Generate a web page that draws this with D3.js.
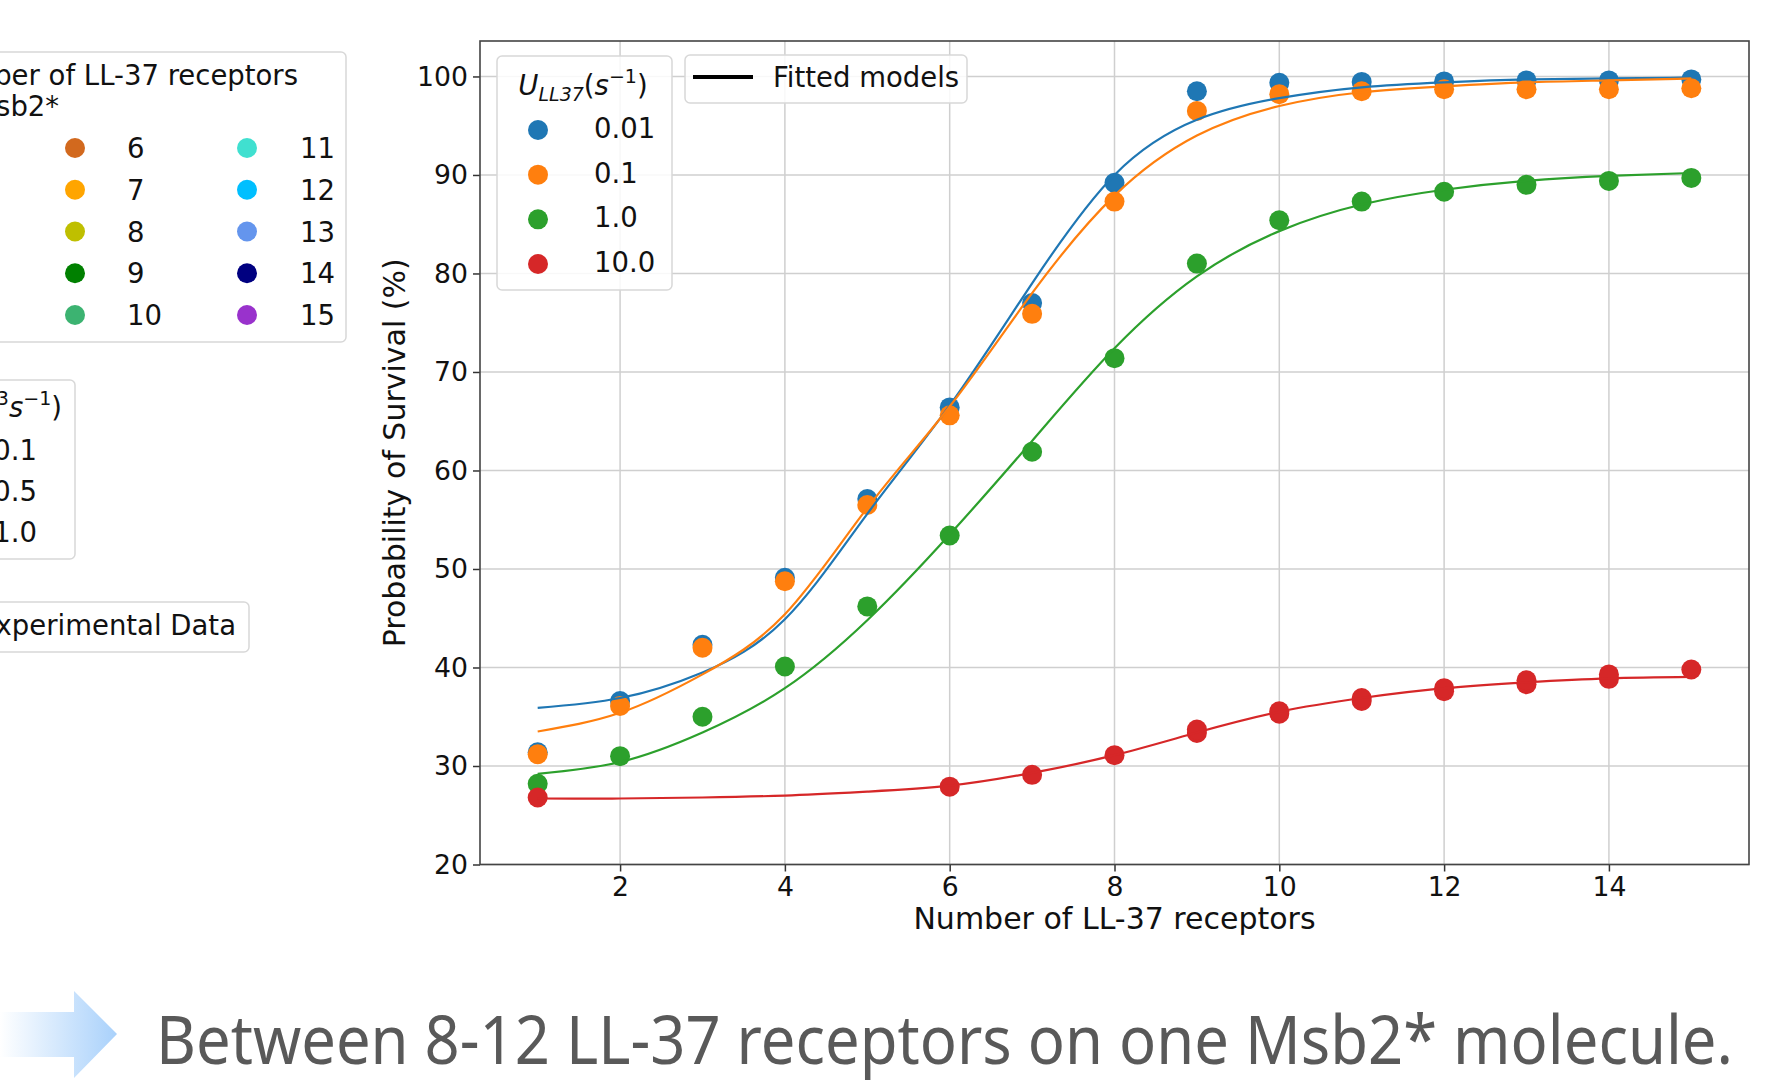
<!DOCTYPE html>
<html>
<head>
<meta charset="utf-8">
<script src="https://cdn.jsdelivr.net/npm/d3@7"></script>
<style>
  html, body { margin: 0; padding: 0; background: #fff; overflow: hidden; }
  svg { display: block; font-family: "DejaVu Sans", sans-serif; }
</style>
</head>
<body>
<svg id="chart" width="1775" height="1089"></svg>
<script>
// ---- data -------------------------------------------------------------
const receptors = [1, 2, 3, 4, 5, 6, 7, 8, 9, 10, 11, 12, 13, 14, 15];
const rateLabels = ["0.01", "0.1", "1.0", "10.0"];
const rateColors = ["#1f77b4", "#ff7f0e", "#2ca02c", "#d62728"];

// measured survival (%) per receptor count
const survivalRate001 = [31.4, 36.6, 42.3, 49.1, 57.1, 66.4, 77.0, 89.2, 98.5, 99.35, 99.45, 99.5, 99.6, 99.6, 99.7];
const survivalRate01  = [31.2, 36.1, 42.0, 48.75, 56.5, 65.6, 75.9, 87.3, 96.5, 98.2, 98.5, 98.7, 98.7, 98.7, 98.8];
const survivalRate1   = [28.2, 31.0, 35.0, 40.1, 46.2, 53.4, 61.9, 71.4, 81.0, 85.4, 87.3, 88.3, 89.0, 89.4, 89.7];
const receptorsRate10 = [1, 6, 7, 8, 9, 10, 11, 12, 13, 14, 15];
const survivalRate10  = [26.8, 27.9, 29.1, 31.1, 33.35, 35.3, 36.6, 37.6, 38.3, 38.85, 39.8];
const receptorsRate10Repeat = [9, 10, 11, 12, 13, 14];
const survivalRate10Repeat  = [33.7, 35.55, 36.9, 37.9, 38.7, 39.3];

// fitted model curves, evaluated at each receptor count
const fitRate001 = [35.9, 36.9, 39.5, 44.9, 55.6, 66.6, 79.0, 90.0, 95.6, 97.8, 98.9, 99.4, 99.7, 99.8, 99.9];
const fitRate01  = [33.5, 35.4, 39.3, 45.4, 56.2, 66.5, 78.0, 87.9, 94.0, 97.0, 98.4, 99.0, 99.4, 99.6, 99.8];
const fitRate1   = [29.2, 30.4, 33.4, 37.9, 44.8, 53.5, 63.0, 72.4, 79.7, 84.3, 87.0, 88.5, 89.4, 89.9, 90.2];
const fitRate10  = [26.7, 26.7, 26.8, 27.0, 27.4, 28.0, 29.3, 31.1, 33.4, 35.5, 36.9, 37.9, 38.5, 38.9, 39.05];

const xTicks = [2, 4, 6, 8, 10, 12, 14];
const yTicks = [20, 30, 40, 50, 60, 70, 80, 90, 100];

// side legends
const receptorCountLabels = ["6", "7", "8", "9", "10", "11", "12", "13", "14", "15"];
const receptorCountColors = ["#d2691e", "#ffa500", "#bfbf00", "#008000", "#3cb371",
                             "#40e0d0", "#00bfff", "#6495ed", "#000080", "#9932cc"];
const concentrationLabels = ["0.1", "0.5", "1.0"];

const conclusion = "Between 8-12 LL-37 receptors on one Msb2* molecule.";

// ---- chart ------------------------------------------------------------
const svg = d3.select("#chart");
svg.append("rect").attr("width", 1775).attr("height", 1089).attr("fill", "#fff");

const plot = { left: 480, right: 1749, top: 41, bottom: 864.5 };
const x = d3.scaleLinear().domain([0.3, 15.7]).range([plot.left, plot.right]);
const y = d3.scaleLinear().domain([20, 103.6]).range([plot.bottom, plot.top]);

const tickFont = 26.7;

// grid
const grid = svg.append("g").attr("stroke", "#cfcfcf").attr("stroke-width", 1.5);
grid.selectAll("line.gx").data(xTicks).join("line")
  .attr("x1", d => x(d)).attr("x2", d => x(d))
  .attr("y1", plot.top).attr("y2", plot.bottom);
grid.selectAll("line.gy").data(yTicks).join("line")
  .attr("x1", plot.left).attr("x2", plot.right)
  .attr("y1", d => y(d)).attr("y2", d => y(d));

// axes
const xAxis = svg.append("g")
  .attr("transform", `translate(0,${plot.bottom})`)
  .call(d3.axisBottom(x).tickValues(xTicks).tickSize(7).tickPadding(6).tickFormat(d3.format("d")));
const yAxis = svg.append("g")
  .attr("transform", `translate(${plot.left},0)`)
  .call(d3.axisLeft(y).tickValues(yTicks).tickSize(7).tickPadding(5).tickFormat(d3.format("d")));
[xAxis, yAxis].forEach(a => {
  a.select(".domain").remove();
  a.selectAll(".tick line").attr("stroke", "#333").attr("stroke-width", 1.5);
  a.selectAll(".tick text").attr("font-size", tickFont)
    .attr("font-family", "DejaVu Sans, sans-serif").attr("fill", "#111");
});

// spines
svg.append("rect")
  .attr("x", plot.left).attr("y", plot.top)
  .attr("width", plot.right - plot.left).attr("height", plot.bottom - plot.top)
  .attr("fill", "none").attr("stroke", "#444").attr("stroke-width", 1.6);

// axis titles
svg.append("text")
  .attr("x", (plot.left + plot.right) / 2).attr("y", 929)
  .attr("text-anchor", "middle").attr("font-size", 30).attr("fill", "#111")
  .text("Number of LL-37 receptors");
svg.append("text")
  .attr("transform", `translate(405,${(plot.top + plot.bottom) / 2}) rotate(-90)`)
  .attr("text-anchor", "middle").attr("font-size", 30).attr("fill", "#111")
  .text("Probability of Survival (%)");

// experimental points (drawn beneath the fitted curves)
const pointR = 10;
const pointSets = [
  { xs: receptors, ys: survivalRate001, c: rateColors[0] },
  { xs: receptors, ys: survivalRate01, c: rateColors[1] },
  { xs: receptors, ys: survivalRate1, c: rateColors[2] },
  { xs: receptorsRate10, ys: survivalRate10, c: rateColors[3] },
  { xs: receptorsRate10Repeat, ys: survivalRate10Repeat, c: rateColors[3] }
];
const pts = svg.append("g");
pointSets.forEach(s => {
  pts.append("g").selectAll("circle").data(s.ys).join("circle")
    .attr("cx", (d, i) => x(s.xs[i])).attr("cy", d => y(d))
    .attr("r", pointR).attr("fill", s.c);
});

// fitted models
const fitLine = d3.line()
  .x((d, i) => x(receptors[i]))
  .y(d => y(d))
  .curve(d3.curveNatural);
[fitRate001, fitRate01, fitRate1, fitRate10].forEach((f, i) => {
  svg.append("path").datum(f)
    .attr("d", fitLine).attr("fill", "none")
    .attr("stroke", rateColors[i]).attr("stroke-width", 2.2);
});

// ---- legends inside the plot -----------------------------------------
const legFont = 27.5;
function legendBox(x0, y0, w, h) {
  return svg.append("rect").attr("x", x0).attr("y", y0).attr("width", w).attr("height", h)
    .attr("rx", 5).attr("fill", "#fff").attr("fill-opacity", 0.85)
    .attr("stroke", "#d8d8d8").attr("stroke-width", 1.5);
}

legendBox(497, 56, 175, 234);
const rateTitle = svg.append("text").attr("x", 583).attr("y", 95)
  .attr("text-anchor", "middle").attr("font-size", legFont).attr("fill", "#111");
rateTitle.append("tspan").attr("font-style", "italic").text("U");
rateTitle.append("tspan").attr("font-style", "italic").attr("font-size", 19).attr("dy", 6).text("LL37");
rateTitle.append("tspan").attr("dy", -6).text("(");
rateTitle.append("tspan").attr("font-style", "italic").text("s");
rateTitle.append("tspan").attr("font-size", 19).attr("dy", -12).text("\u22121");
rateTitle.append("tspan").attr("dy", 12).text(")");

const rateRowY = d3.scaleLinear().domain([0, 3]).range([130, 264]);
const rateLeg = svg.append("g");
rateLabels.forEach((lab, i) => {
  rateLeg.append("circle").attr("cx", 538).attr("cy", rateRowY(i)).attr("r", pointR).attr("fill", rateColors[i]);
  rateLeg.append("text").attr("x", 594).attr("y", rateRowY(i) + 8)
    .attr("font-size", legFont).attr("fill", "#111").text(lab);
});

legendBox(685, 55, 282, 48);
svg.append("line").attr("x1", 693).attr("x2", 753).attr("y1", 77).attr("y2", 77)
  .attr("stroke", "#000").attr("stroke-width", 4);
svg.append("text").attr("x", 773).attr("y", 87).attr("font-size", legFont).attr("fill", "#111")
  .text("Fitted models");

// ---- legends beside the plot ------------------------------------------
legendBox(-20, 52, 366, 290);
const t1 = svg.append("text").attr("x", 298).attr("y", 85).attr("text-anchor", "end")
  .attr("font-size", legFont).attr("fill", "#111").text("Number of LL-37 receptors");
const t1Start = 298 - t1.node().getComputedTextLength();
svg.append("text").attr("x", t1Start).attr("y", 116)
  .attr("font-size", legFont).attr("fill", "#111").text("on Msb2*");

const countRowY = d3.scaleLinear().domain([0, 4]).range([148, 315]);
const countLeg = svg.append("g");
receptorCountLabels.forEach((lab, i) => {
  const col = Math.floor(i / 5), row = i % 5;
  const mx = col === 0 ? 75 : 247;
  const tx = col === 0 ? 127 : 300;
  countLeg.append("circle").attr("cx", mx).attr("cy", countRowY(row)).attr("r", pointR)
    .attr("fill", receptorCountColors[i]);
  countLeg.append("text").attr("x", tx).attr("y", countRowY(row) + 10)
    .attr("font-size", legFont).attr("fill", "#111").text(lab);
});

legendBox(-20, 380, 95, 179);
const t2 = svg.append("text").attr("x", 62).attr("y", 417).attr("text-anchor", "end")
  .attr("font-size", legFont).attr("fill", "#111");
t2.append("tspan").text("(10");
t2.append("tspan").attr("font-size", 19).attr("dy", -12).text("3");
t2.append("tspan").attr("font-style", "italic").attr("dy", 12).text("s");
t2.append("tspan").attr("font-size", 19).attr("dy", -12).text("\u22121");
t2.append("tspan").attr("dy", 12).text(")");

const concRowY = d3.scaleLinear().domain([0, 2]).range([460, 542]);
concentrationLabels.forEach((lab, i) => {
  svg.append("text").attr("x", 37).attr("y", concRowY(i)).attr("text-anchor", "end")
    .attr("font-size", legFont).attr("fill", "#111").text(lab);
});

legendBox(-20, 602, 269, 50);
svg.append("text").attr("x", 236).attr("y", 635).attr("text-anchor", "end")
  .attr("font-size", legFont).attr("fill", "#111").text("Experimental Data");

// ---- conclusion banner ------------------------------------------------
const defs = svg.append("defs");
const grad = defs.append("linearGradient").attr("id", "arrowFill")
  .attr("x1", "0%").attr("x2", "100%").attr("y1", "0%").attr("y2", "0%");
grad.append("stop").attr("offset", "0%").attr("stop-color", "#ffffff");
grad.append("stop").attr("offset", "100%").attr("stop-color", "#a9d1fb");
svg.append("path")
  .attr("d", "M0,1012 L74,1012 L74,991 L117,1034 L74,1078 L74,1057 L0,1057 Z")
  .attr("fill", "url(#arrowFill)");

svg.append("text").attr("x", 156).attr("y", 1064)
  .attr("font-family", "Noto Sans, Open Sans, sans-serif")
  .attr("font-size", 67).attr("fill", "#595959")
  .attr("textLength", 1577).attr("lengthAdjust", "spacingAndGlyphs")
  .text(conclusion);
</script>
</body>
</html>
